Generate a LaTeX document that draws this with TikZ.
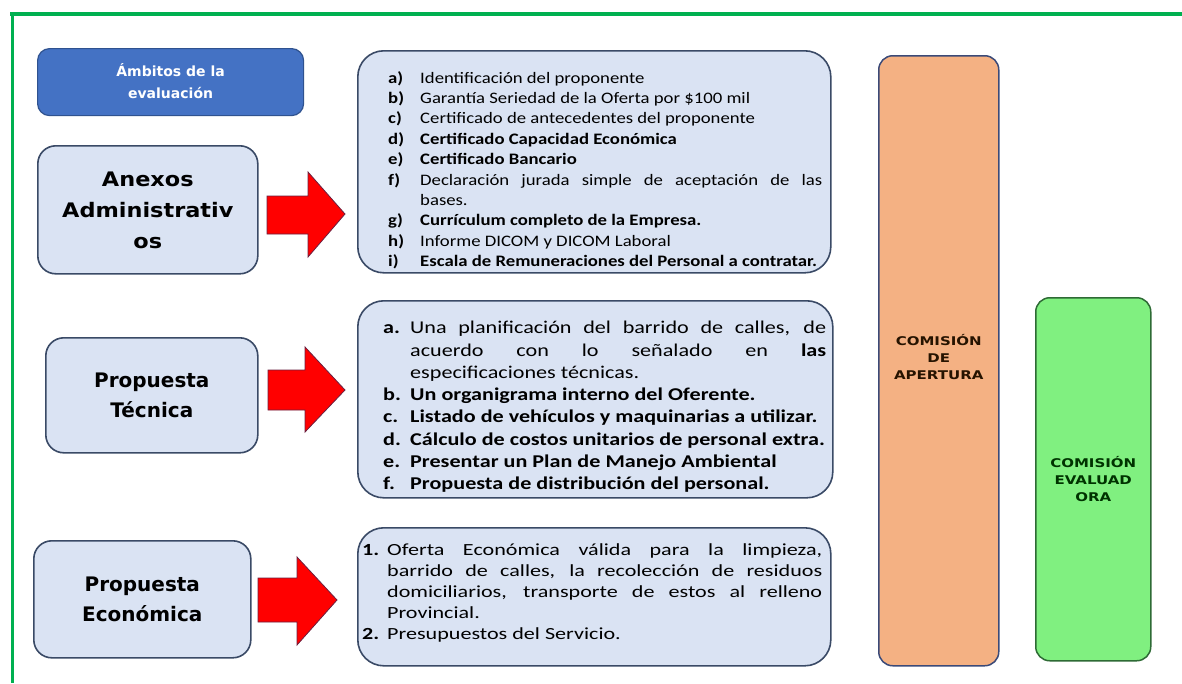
\documentclass[tikz,border=0pt]{standalone}
\usepackage{fontspec}
\setmainfont{Carlito}
\newfontfamily\lblfont{DejaVu Sans}
\newfontfamily\anxfont[FakeStretch=1.12]{DejaVu Sans}
\newfontfamily\listAfont[FakeStretch=1.17]{Carlito}
\newfontfamily\listBfont[FakeStretch=1.23]{Carlito}
\newfontfamily\listCfont[FakeStretch=1.3]{Carlito}
\newfontfamily\commfont[FakeStretch=1.25]{DejaVu Sans}
\definecolor{framegreen}{HTML}{00B050}
\definecolor{boxfill}{HTML}{DAE3F3}
\definecolor{boxline}{HTML}{3A4A66}
\definecolor{hdrfill}{HTML}{4472C4}
\definecolor{hdrline}{HTML}{2F528F}
\definecolor{orfill}{HTML}{F4B183}
\definecolor{orline}{HTML}{3B4A78}
\definecolor{grfill}{HTML}{80F080}
\definecolor{grline}{HTML}{2E6B35}
\definecolor{arrred}{HTML}{FF0000}
\definecolor{arredge}{HTML}{6A2040}
\newcommand{\itm}[2]{\hangindent=32pt\hangafter=1\noindent\makebox[32pt][l]{#1}#2\par}
\newcommand{\itmb}[2]{\hangindent=27pt\hangafter=1\noindent\makebox[27pt][l]{#1}#2\par}
\newcommand{\itmc}[2]{\hangindent=25pt\hangafter=1\noindent\makebox[25pt][l]{#1}#2\par}
\begin{document}
\begin{tikzpicture}[x=1pt,y=-1pt,
  lightbox/.style={draw=boxline, fill=boxfill, line width=1.6pt, rounded corners=18pt, inner sep=0pt, anchor=north west},
  listbox/.style={lightbox, rounded corners=26pt},
  hdrbox/.style={draw=hdrline, fill=hdrfill, line width=1.2pt, rounded corners=12pt, inner sep=0pt, anchor=north west, text=white, align=center, font=\lblfont\bfseries\fontsize{14}{22}\selectfont},
  lbl/.style={align=center, font=\lblfont\bfseries\fontsize{20}{30}\selectfont},
  listtxt/.style={anchor=north west, inner sep=0pt, align=justify},
  redarrow/.style={fill=arrred, draw=arredge, line width=0.8pt, line join=miter},
  commbox/.style={rounded corners=14pt, inner sep=0pt, anchor=north west, align=center, line width=1.5pt, font=\commfont\bfseries\fontsize{12}{17}\selectfont}
]
\useasboundingbox (0,0) rectangle (1182,683);
\fill[white] (0,0) rectangle (1182,683);
\draw[framegreen, line width=3.5pt] (10,14) -- (1182,14);
\draw[framegreen, line width=3pt] (12,12) -- (12,683);

% header
\node[hdrbox, minimum width=266pt, minimum height=67pt, text depth=3pt] (hdr) at (37,48) {Ámbitos de la\\evaluación};

% left boxes
\node[lightbox, lbl, font=\anxfont\bfseries\fontsize{20}{31}\selectfont, minimum width=220pt, minimum height=128pt, anchor=north west, text depth=0pt] (anexos) at (37,145) {Anexos\\Administrativ\\os};
\node[lightbox, lbl, minimum width=212pt, minimum height=115pt, anchor=north west] (tecnica) at (45,337) {Propuesta\\Técnica};
\node[lightbox, lbl, minimum width=217pt, minimum height=117pt, anchor=north west] (economica) at (33,540) {Propuesta\\Económica};

% list boxes
\node[listbox, minimum width=473pt, minimum height=222pt] (list1) at (357,50) {};
\node[listbox, minimum width=475pt, minimum height=197pt] (list2) at (357,300) {};
\node[listbox, minimum width=473pt, minimum height=138pt] (list3) at (357,527) {};

\node[listtxt, text width=434pt, font=\listAfont\fontsize{16}{20.4}\selectfont] (list1txt) at (388,71) {%
\itm{\textbf{a)}}{Identificación del proponente}
\itm{\textbf{b)}}{Garantía Seriedad de la Oferta por \$100 mil}
\itm{\textbf{c)}}{Certificado de antecedentes del proponente}
\itm{\textbf{d)}}{\textbf{Certificado Capacidad Económica}}
\itm{\textbf{e)}}{\textbf{Certificado Bancario}}
\itm{\textbf{f)}}{Declaración jurada simple de aceptación de las\linebreak bases.}
\itm{\textbf{g)}}{\textbf{Currículum completo de la Empresa.}}
\itm{\textbf{h)}}{Informe DICOM y DICOM Laboral}
\itm{\textbf{i)}}{\textbf{Escala de Remuneraciones del Personal a contratar.}}
};

\node[listtxt, text width=443pt, font=\listBfont\fontsize{18}{22.3}\selectfont] (list2txt) at (383,321) {%
\itmb{\textbf{a.}}{Una planificación del barrido de calles, de\linebreak acuerdo con lo señalado en \textbf{las}\linebreak especificaciones técnicas.}
\itmb{\textbf{b.}}{\textbf{Un organigrama interno del Oferente.}}
\itmb{\textbf{c.}}{\textbf{Listado de vehículos y maquinarias a utilizar.}}
\itmb{\textbf{d.}}{\textbf{Cálculo de costos unitarios de personal extra.}}
\itmb{\textbf{e.}}{\textbf{Presentar un Plan de Manejo Ambiental}}
\itmb{\textbf{f.}}{\textbf{Propuesta de distribución del personal.}}
};

\node[listtxt, text width=460pt, font=\listCfont\fontsize{17}{21}\selectfont] (list3txt) at (362,543) {%
\itmc{\textbf{1.}}{Oferta Económica válida para la limpieza,\linebreak barrido de calles, la recolección de residuos\linebreak domiciliarios, transporte de estos al relleno\linebreak Provincial.}
\itmc{\textbf{2.}}{Presupuestos del Servicio.}
};

% arrows
\coordinate (a1) at (267,196);
\coordinate (a2) at (268,370);
\coordinate (a3) at (258,578);
\draw[redarrow] (a1) -- ++(41,0) -- ++(0,-24) -- (345,214) -- (308,257) -- (308,234) -- (267,234) -- cycle;
\draw[redarrow] (a2) -- ++(37,0) -- ++(0,-23) -- (345,390) -- (305,432) -- (305,410) -- (268,410) -- cycle;
\draw[redarrow] (a3) -- ++(39,0) -- ++(0,-21) -- (337,600) -- (297,645) -- (297,622) -- (258,622) -- cycle;

% commission boxes
\node[commbox, draw=orline, fill=orfill, text=black!85!orange, minimum width=120pt, minimum height=610pt, text depth=8pt] (apertura) at (878,55) {COMISIÓN\\DE\\APERTURA};
\node[commbox, draw=grline, fill=grfill, text=black!80!green, minimum width=115pt, minimum height=363pt] (evaluadora) at (1035,297) {COMISIÓN\\EVALUAD\\ORA};
\end{tikzpicture}
\end{document}
